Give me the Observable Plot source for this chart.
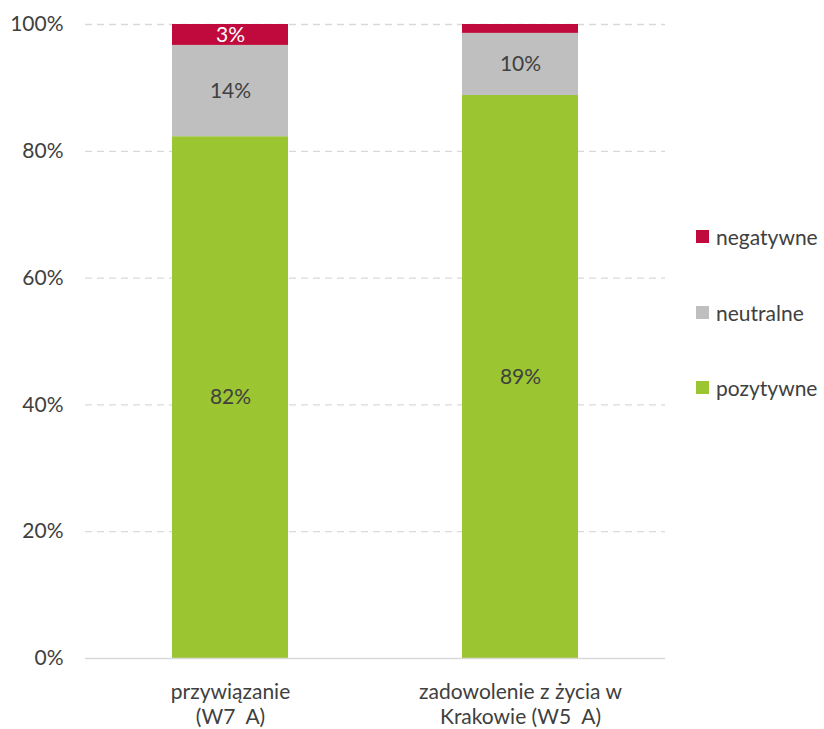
<!DOCTYPE html>
<html>
<head>
<meta charset="utf-8">
<script src="https://cdn.jsdelivr.net/npm/d3@7"></script>
<script src="https://cdn.jsdelivr.net/npm/@observablehq/plot@0.6"></script>
<style>
  body { margin: 0; background: #fff; }
  #wrap { position: relative; width: 824px; height: 729px; font-family: Lato, "Open Sans", sans-serif; }
  #legend { position: absolute; left: 696px; top: 0; }
  .li { position: absolute; left: 0; white-space: nowrap; font-size: 21px; color: #404040; display: flex; align-items: center; }
  .sw { width: 13px; height: 13px; margin-right: 7px; display: inline-block; }
</style>
</head>
<body>
<div id="wrap"><div id="chart"></div><div id="legend"></div></div>
<script>
const categories = ["przywiązanie\n(W7\u00a0 A)", "zadowolenie z życia w\nKrakowie (W5\u00a0 A)"];
const seriesNames = ["pozytywne", "neutralne", "negatywne"];
const pozytywne = [82.3, 88.8];
const neutralne = [14.4, 9.8];
const negatywne = [3.3, 1.4];
const labels = {
  pozytywne: ["82%", "89%"],
  neutralne: ["14%", "10%"],
  negatywne: ["3%", ""]
};
const yTicks = [0, 20, 40, 60, 80, 100];
const colors = ["#9BC531", "#BFBFBF", "#C00A3D"];
const labelColors = {pozytywne: "#404040", neutralne: "#404040", negatywne: "#ffffff"};

const valuesBy = {pozytywne, neutralne, negatywne};
const data = [];
seriesNames.forEach(s => categories.forEach((c, i) => {
  data.push({cat: c, series: s, value: valuesBy[s][i], label: labels[s][i], lc: labelColors[s]});
}));

const chart = Plot.plot({
  width: 824,
  height: 729,
  marginLeft: 85,
  marginRight: 159,
  marginTop: 24,
  marginBottom: 71,
  style: {fontFamily: "Lato, 'Open Sans', sans-serif", fontSize: "21px", color: "#404040"},
  x: {domain: categories, paddingInner: 0.6, paddingOuter: 0.3, label: null},
  y: {domain: [0, 100], label: null},
  color: {domain: seriesNames, range: colors},
  marks: [
    Plot.ruleY(yTicks.filter(d => d > 0), {stroke: "#d9d9d9", strokeWidth: 1.3, strokeDasharray: "7,5"}),
    Plot.barY(data, {x: "cat", y: "value", fill: "series", order: seriesNames}),
    Plot.ruleY([0], {stroke: "#d9d9d9", strokeWidth: 1.3}),
    Plot.text(data, Plot.stackY({x: "cat", y: "value", z: "series", order: seriesNames, text: "label", fill: "lc", fontSize: 21})),
    Plot.axisY({ticks: yTicks, tickFormat: d => d + "%", tickSize: 0, tickPadding: 22, fontSize: 21, label: null}),
    Plot.axisX({tickSize: 0, tickPadding: 22, fontSize: 21, lineHeight: 1.22, label: null})
  ]
});
document.getElementById("chart").appendChild(chart);

const legend = document.getElementById("legend");
const legendOrder = ["negatywne", "neutralne", "pozytywne"];
const legendTops = [236, 312, 387];
legendOrder.forEach((s, i) => {
  const d = document.createElement("div");
  d.className = "li";
  d.style.top = (legendTops[i] - 13) + "px";
  d.style.height = "26px";
  d.innerHTML = `<span class="sw" style="background:${colors[seriesNames.indexOf(s)]}"></span><span>${s}</span>`;
  legend.appendChild(d);
});
</script>
</body>
</html>
